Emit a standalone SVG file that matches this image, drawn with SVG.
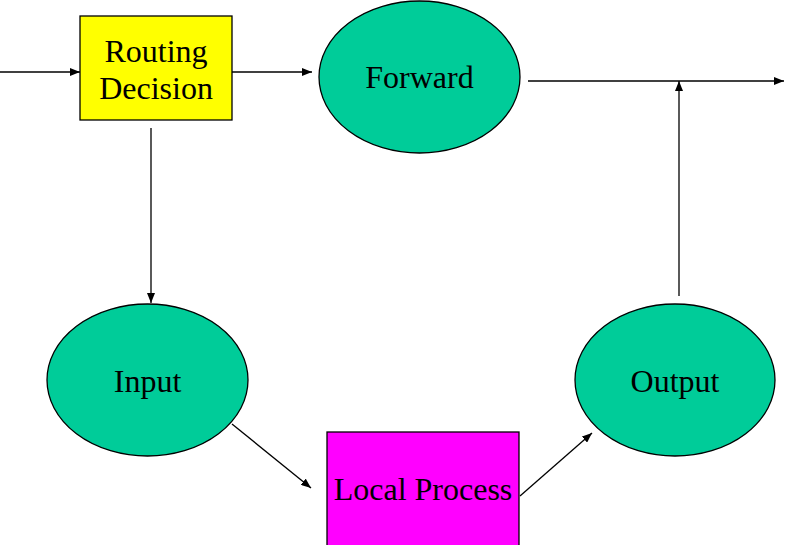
<svg xmlns="http://www.w3.org/2000/svg" width="792" height="545" viewBox="0 0 792 545">
<style>
.box{stroke:#000;stroke-width:1.3}
.ell{fill:#00CC99;stroke:#000;stroke-width:1.3}
.lbl{font-family:"Liberation Serif","Times New Roman",serif;font-size:32px;fill:#000;text-anchor:middle}
.con{stroke:#000;stroke-width:1.3;fill:none}
.arr{marker-end:url(#ah)}
</style>
<defs>
<marker id="ah" markerWidth="10" markerHeight="8" refX="10" refY="4" orient="auto" markerUnits="userSpaceOnUse">
<path d="M0,0 L10,4 L0,8 Z" fill="#000"/>
</marker>
</defs>
<rect width="792" height="545" fill="#fff"/>
<g id="routing">
<rect class="box" x="80" y="16" width="152" height="104" fill="#FFFF00"/>
<text class="lbl" x="156" y="62">Routing</text>
<text class="lbl" x="156" y="99">Decision</text>
</g>
<g id="forward">
<ellipse class="ell" cx="419.5" cy="77" rx="100.5" ry="76"/>
<text class="lbl" x="419.5" y="88">Forward</text>
</g>
<g id="input">
<ellipse class="ell" cx="147.5" cy="380" rx="100.5" ry="76"/>
<text class="lbl" x="147.5" y="392">Input</text>
</g>
<g id="output">
<ellipse class="ell" cx="675" cy="380" rx="100" ry="76"/>
<text class="lbl" x="675" y="392">Output</text>
</g>
<g id="local">
<rect class="box" x="327" y="432" width="192" height="114" fill="#FF00FF"/>
<text class="lbl" x="423" y="500">Local Process</text>
</g>
<g id="connectors">
<line class="con arr" x1="0" y1="72" x2="80" y2="72"/>
<line class="con arr" x1="232" y1="72" x2="312" y2="72"/>
<line class="con arr" x1="151" y1="128" x2="151" y2="303"/>
<line class="con arr" x1="232" y1="424" x2="311" y2="488"/>
<line class="con arr" x1="520" y1="496" x2="592" y2="433"/>
<line class="con arr" x1="679" y1="296" x2="679" y2="81"/>
<line class="con arr" x1="528" y1="81" x2="784" y2="81"/>
</g>
</svg>
